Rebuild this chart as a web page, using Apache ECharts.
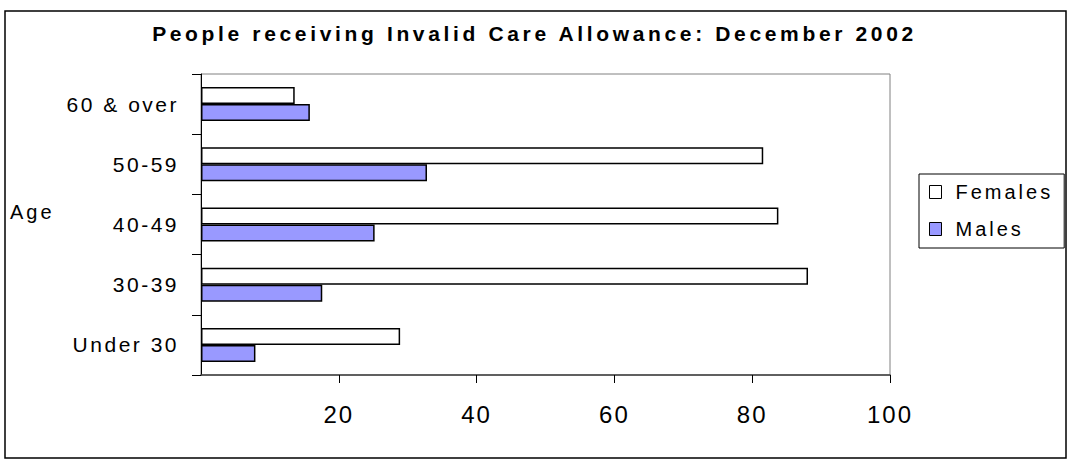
<!DOCTYPE html>
<html>
<head>
<meta charset="utf-8">
<script src="https://cdn.jsdelivr.net/npm/echarts@6/dist/echarts.min.js"></script>
<style>
html,body{margin:0;padding:0;background:#fff;}
#chart{width:1069px;height:460px;}
</style>
</head>
<body>
<div id="chart"></div>
<script>
const titleText = 'People receiving Invalid Care Allowance: December 2002';
const categories = ['Under 30', '30-39', '40-49', '50-59', '60 & over'];
const females = [28.9, 88.1, 83.8, 81.6, 13.6];
const males = [7.9, 17.6, 25.2, 32.8, 15.8];
const seriesNames = ['Females', 'Males'];
const axisName = 'Age';

const FONT = 'Arial, "Liberation Sans", sans-serif';
const chart = echarts.init(document.getElementById('chart'), null, {renderer: 'svg'});

chart.setOption({
  animation: false,
  backgroundColor: '#fff',
  textStyle: {fontFamily: FONT, color: '#000'},
  title: {
    text: titleText,
    left: 'center',
    top: 23,
    padding: 0,
    textStyle: {fontSize: 21, fontWeight: 'bold', color: '#000', fontFamily: FONT}
  },
  graphic: [
    {type: 'rect', shape: {x: 5, y: 11, width: 1061, height: 447}, style: {fill: 'none', stroke: '#000', lineWidth: 1.5}, silent: true},
    {type: 'text', x: 10, y: 212, style: {text: axisName, fontSize: 20, fontFamily: FONT, fill: '#000', align: 'left', verticalAlign: 'middle'}}
  ],
  legend: {
    data: seriesNames,
    orient: 'vertical',
    left: 919,
    top: 174,
    padding: [8, 32, 9, 10],
    itemWidth: 12,
    itemHeight: 13,
    itemGap: 17,
    borderColor: '#000',
    borderWidth: 1,
    icon: 'rect',
    itemStyle: {borderColor: '#000', borderWidth: 1},
    textStyle: {fontSize: 20, color: '#000', fontFamily: FONT, padding: [0, 0, 0, 9]}
  },
  grid: {
    left: 201, right: 179, top: 74, bottom: 85,
    show: true, borderColor: '#808080', borderWidth: 1, backgroundColor: '#fff'
  },
  xAxis: {
    type: 'value',
    min: 0, max: 100, interval: 20,
    splitLine: {show: false},
    axisLine: {show: true, lineStyle: {color: '#404040', width: 1.5}},
    axisTick: {show: true, length: 8, lineStyle: {color: '#000'}},
    axisLabel: {fontSize: 24, margin: 27, color: '#000', fontFamily: FONT, showMinLabel: false,
      formatter: v => v === 0 ? '' : String(v)}
  },
  yAxis: {
    type: 'category',
    data: categories,
    axisLine: {show: true, lineStyle: {color: '#000', width: 1}},
    axisTick: {show: true, length: 9, lineStyle: {color: '#000'}},
    axisLabel: {fontSize: 21, margin: 22, color: '#000', fontFamily: FONT}
  },
  series: [
    {
      name: 'Females', type: 'bar', data: females,
      barWidth: 17, barGap: '0%',
      itemStyle: {color: '#FFFFFF', borderColor: '#000', borderWidth: 1.5}
    },
    {
      name: 'Males', type: 'bar', data: males,
      barWidth: 17, barGap: '0%',
      itemStyle: {color: '#9999FF', borderColor: '#000', borderWidth: 1.5}
    }
  ]
});

function applySpacing() {
  const dom = chart.getDom();
  const cv = document.createElement('canvas').getContext('2d');
  dom.querySelectorAll('text').forEach(t => {
    const s = t.textContent;
    let ls = 0;
    if (s === titleText) {
      cv.font = 'bold 21px ' + FONT;
      const w = cv.measureText(s).width;
      ls = Math.max(0, (762 - w) / (s.length - 1));
    } else if (categories.includes(s)) {
      ls = 2.5;
    } else if (/^\d+$/.test(s)) {
      ls = 2;
    } else if (seriesNames.includes(s)) {
      ls = 3;
    } else if (s === axisName) {
      ls = 3;
    }
    if (ls) t.style.letterSpacing = ls.toFixed(2) + 'px';
  });
}
chart.on('finished', applySpacing);
setTimeout(applySpacing, 50);
setTimeout(applySpacing, 300);
</script>
</body>
</html>
